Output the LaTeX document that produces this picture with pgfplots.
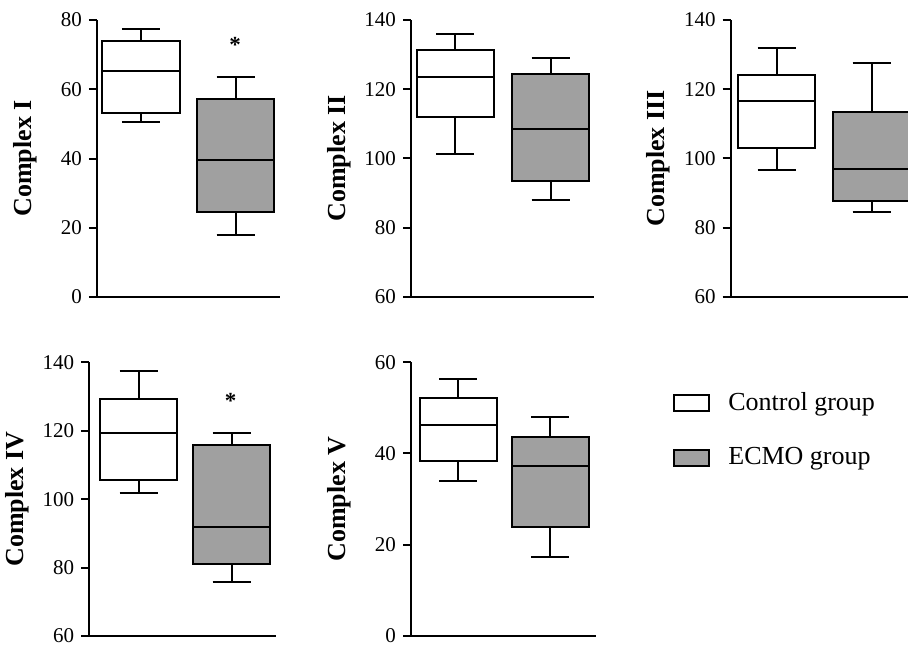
\documentclass[border=0pt]{standalone}
\usepackage{fontspec}
\setmainfont{Liberation Serif}
\usepackage{pgfplots}
\pgfplotsset{compat=1.18}
\usepgfplotslibrary{statistics}
\definecolor{ecmofill}{RGB}{160,160,160}
\pgfplotsset{
  panel/.style n args={3}{
    scale only axis, width=#1pt, height=#2pt,
    xmin=0, xmax=#3,
    axis x line*=bottom, axis y line*=left,
    axis line style={line width=1pt, black},
    xtick=\empty,
    enlargelimits=false, clip=false,
    tick align=outside, major tick length=4pt,
    every tick/.style={line width=1pt, black},
    /pgf/number format/assume math mode=true,
    yticklabel style={font=\fontsize{10.5}{12}\selectfont},
    ylabel style={font=\bfseries\fontsize{13}{15}\selectfont,
      at={(axis description cs:-30/#1,0.5)}, anchor=south, inner sep=0pt},
    anchor=south west,
    boxplot/draw direction=y,
  },
  ctrl/.style={forget plot, draw=black, fill=white, line width=1pt, solid, mark=none},
  ecmo/.style={forget plot, draw=black, fill=ecmofill, line width=1pt, solid, mark=none},
  star/.style={forget plot, only marks, mark=text,
    text mark={\bfseries\fontsize{11.5}{11.5}\selectfont *}},
}
\begin{document}
\begin{tikzpicture}
% Complex I
\begin{axis}[panel={91.5}{138.5}{183}, at={(48.5pt,175pt)},
  ymin=0, ymax=80, ytick={0,20,40,60,80}, ylabel={Complex I}]
\addplot[ctrl, boxplot prepared={draw position=44, lower whisker=50.6, lower quartile=53.1,
  median=65.3, upper quartile=74.0, upper whisker=77.4, box extend=77, whisker extend=38}] coordinates {};
\addplot[ecmo, boxplot prepared={draw position=138.5, lower whisker=18.0, lower quartile=24.5,
  median=39.5, upper quartile=57.1, upper whisker=63.5, box extend=77, whisker extend=38}] coordinates {};
\addplot[star] coordinates {(138,72.8)};
\end{axis}
% Complex II
\begin{axis}[panel={91.5}{138.3}{183}, at={(205.5pt,175.15pt)},
  ymin=60, ymax=140, ytick={60,80,100,120,140}, ylabel={Complex II}]
\addplot[ctrl, boxplot prepared={draw position=44, lower whisker=101.4, lower quartile=112.1,
  median=123.5, upper quartile=131.4, upper whisker=136.0, box extend=77, whisker extend=38}] coordinates {};
\addplot[ecmo, boxplot prepared={draw position=139.5, lower whisker=88.0, lower quartile=93.5,
  median=108.6, upper quartile=124.5, upper whisker=129.0, box extend=77, whisker extend=38}] coordinates {};
\end{axis}
% Complex III
\begin{axis}[panel={91.5}{138.3}{183}, at={(365.35pt,175.15pt)},
  ymin=60, ymax=140, ytick={60,80,100,120,140}, ylabel={Complex III}]
\addplot[ctrl, boxplot prepared={draw position=46, lower whisker=96.6, lower quartile=103.0,
  median=116.5, upper quartile=124.0, upper whisker=132.0, box extend=77, whisker extend=38}] coordinates {};
\addplot[ecmo, boxplot prepared={draw position=141, lower whisker=84.5, lower quartile=87.6,
  median=96.9, upper quartile=113.4, upper whisker=127.7, box extend=77, whisker extend=38}] coordinates {};
\end{axis}
% Complex IV
\begin{axis}[panel={93.5}{136.85}{187}, at={(44.65pt,5.5pt)},
  ymin=60, ymax=140, ytick={60,80,100,120,140}, ylabel={Complex IV}]
\addplot[ctrl, boxplot prepared={draw position=49.3, lower whisker=101.9, lower quartile=105.6,
  median=119.3, upper quartile=129.2, upper whisker=137.6, box extend=77, whisker extend=38}] coordinates {};
\addplot[ecmo, boxplot prepared={draw position=142.2, lower whisker=75.9, lower quartile=81.0,
  median=91.9, upper quartile=115.7, upper whisker=119.3, box extend=77, whisker extend=38}] coordinates {};
\addplot[star] coordinates {(141.4,128.7)};
\end{axis}
% Complex V
\begin{axis}[panel={92.5}{136.7}{185}, at={(205.5pt,5.65pt)},
  ymin=0, ymax=60, ytick={0,20,40,60}, ylabel={Complex V},
  legend image code/.code={\draw[#1, line width=1pt] (0pt,-4pt) rectangle (17.5pt,4pt);},
  legend style={at={(axis description cs:1.416,0.752)}, anchor=west, draw=none, fill=none,
    inner sep=0pt, row sep=17pt, column sep=9pt,
    font=\fontsize{13}{15}\selectfont, nodes={inner sep=0pt}},
  legend cell align=left]
\addlegendimage{draw=black, fill=white}
\addlegendentry{Control group}
\addlegendimage{draw=black, fill=ecmofill}
\addlegendentry{ECMO group}
\addplot[ctrl, boxplot prepared={draw position=47, lower whisker=33.9, lower quartile=38.4,
  median=46.3, upper quartile=52.2, upper whisker=56.3, box extend=77, whisker extend=38}] coordinates {};
\addplot[ecmo, boxplot prepared={draw position=139.2, lower whisker=17.3, lower quartile=23.9,
  median=37.3, upper quartile=43.7, upper whisker=47.9, box extend=77, whisker extend=38}] coordinates {};
\end{axis}
\pgfresetboundingbox
\useasboundingbox (0,0) rectangle (454pt,323.5pt);
\end{tikzpicture}
\end{document}
